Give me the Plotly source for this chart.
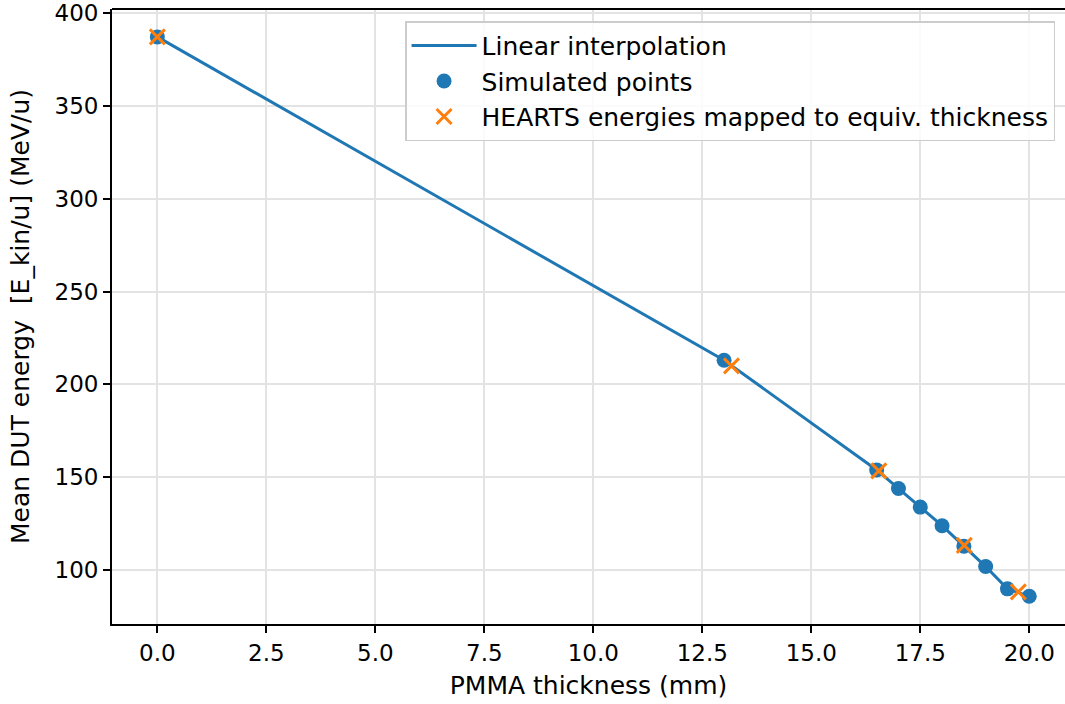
import plotly.graph_objects as go

# Simulated points (PMMA thickness in mm, mean DUT energy in MeV/u)
sim_thickness = [0.0, 13.0, 16.5, 17.0, 17.5, 18.0, 18.5, 19.0, 19.5, 20.0]
sim_energy = [387.0, 213.0, 154.0, 144.0, 134.0, 124.0, 113.0, 102.0, 90.0, 86.0]

# HEARTS energies mapped to equivalent thickness
hearts_thickness = [0.0, 13.17, 16.55, 18.51, 19.75]
hearts_energy = [387.0, 210.0, 153.5, 113.4, 88.4]

x_ticks = [0.0, 2.5, 5.0, 7.5, 10.0, 12.5, 15.0, 17.5, 20.0]
y_ticks = [100, 150, 200, 250, 300, 350, 400]

BLUE = "#1f77b4"
ORANGE = "#ff7f0e"
FONT = "DejaVu Sans"
TICK_SIZE = 23
TEXT_SIZE = 25

fig = go.Figure()
fig.add_trace(go.Scatter(
    x=sim_thickness, y=sim_energy, mode="lines", name="Linear interpolation",
    line=dict(color=BLUE, width=3),
))
fig.add_trace(go.Scatter(
    x=sim_thickness, y=sim_energy, mode="markers", name="Simulated points",
    marker=dict(color=BLUE, size=15, symbol="circle"),
))
fig.add_trace(go.Scatter(
    x=hearts_thickness, y=hearts_energy, mode="markers",
    name="HEARTS energies mapped to equiv. thickness",
    marker=dict(color=ORANGE, size=15, symbol="x-thin", line=dict(color=ORANGE, width=3)),
))

axis_common = dict(
    showgrid=True, gridcolor="#e3e3e3", gridwidth=1.5,
    showline=True, linecolor="black", linewidth=1.8,
    ticks="outside", ticklen=7, tickwidth=1.5, tickcolor="black",
    tickfont=dict(family=FONT, size=TICK_SIZE, color="black"),
    ticklabeloverflow="allow",
    zeroline=False,
)

fig.update_xaxes(
    range=[-1.04, 20.82], tickvals=x_ticks, ticktext=[f"{v:.1f}" for v in x_ticks],
    mirror=False,
    title=dict(text="PMMA thickness (mm)", font=dict(family=FONT, size=TEXT_SIZE, color="black"), standoff=12),
    **axis_common,
)
fig.update_yaxes(
    range=[71.1, 402.0], tickvals=y_ticks, ticktext=[str(v) for v in y_ticks],
    title=dict(text="Mean DUT energy\u00a0\u00a0[E_kin/u] (MeV/u)",
               font=dict(family=FONT, size=TEXT_SIZE, color="black"), standoff=18),
    **axis_common,
)

# top spine
fig.add_shape(type="line", xref="paper", yref="paper", x0=0, x1=1, y0=1, y1=1,
              line=dict(color="black", width=1.8))

fig.update_layout(
    width=1065, height=704,
    margin=dict(l=112, r=0, t=7, b=80),
    paper_bgcolor="white", plot_bgcolor="white",
    font=dict(family=FONT, size=TEXT_SIZE, color="black"),
    showlegend=True,
    legend=dict(
        x=0.3075, y=0.98, xanchor="left", yanchor="top",
        bgcolor="rgba(255,255,255,0.85)", bordercolor="#cccccc", borderwidth=1.5,
        font=dict(family=FONT, size=TEXT_SIZE, color="black"),
        itemwidth=65,
    ),
)

fig.write_html("out.html")
